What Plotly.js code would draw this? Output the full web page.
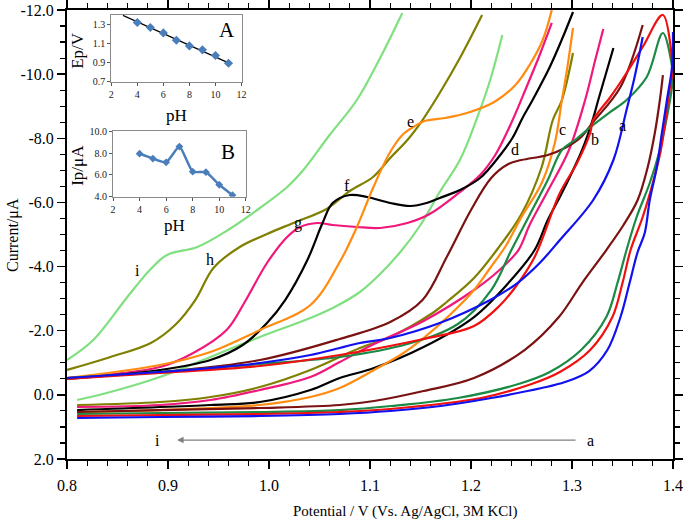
<!DOCTYPE html>
<html><head><meta charset="utf-8">
<script src="https://cdn.plot.ly/plotly-3.0.1.min.js"></script>
<style>html,body{margin:0;padding:0;background:#fff}#chart{width:685px;height:523px}</style>
</head><body><div id="chart"></div>
<script>
// ---- main CV data: potential (V) and current (uA), forward and reverse branches ----
const aFwdV = [0.800,0.892,0.942,0.991,1.041,1.070,1.090,1.120,1.169,1.219,1.246,1.268,1.288,1.321,1.341,1.354,1.362,1.370];
const aFwdI = [-0.525,-0.712,-0.837,-0.993,-1.242,-1.461,-1.617,-1.773,-2.240,-2.957,-3.487,-4.111,-4.828,-6.076,-7.323,-8.883,-9.911,-11.159];
const aRevV = [1.400,1.399,1.394,1.389,1.384,1.377,1.372,1.365,1.357,1.348,1.335,1.317,1.293,1.270,1.220,1.170,1.120,1.070,0.991,0.892,0.810];
const aRevI = [-11.314,-10.223,-9.194,-8.165,-7.105,-6.076,-5.047,-4.454,-3.487,-2.427,-1.398,-0.743,-0.400,-0.213,0.098,0.348,0.504,0.597,0.659,0.691,0.722];

const bFwdV = [0.800,0.892,0.991,1.070,1.153,1.203,1.229,1.244,1.263,1.288,1.305,1.318,1.321,1.338,1.354,1.370,1.390,1.400];
const bFwdI = [-0.494,-0.681,-0.899,-1.242,-1.741,-2.147,-2.801,-3.363,-4.298,-6.294,-7.229,-8.165,-8.570,-9.287,-10.036,-10.847,-11.844,-10.067];
const bRevV = [1.400,1.397,1.393,1.388,1.380,1.370,1.358,1.350,1.340,1.318,1.288,1.260,1.210,1.120,1.070,0.991,0.892,0.810];
const bRevI = [-10.067,-9.599,-8.664,-7.635,-6.606,-5.546,-4.517,-3.487,-2.427,-1.398,-0.712,-0.338,0.098,0.441,0.535,0.597,0.629,0.660];

const cFwdV = [0.800,0.892,0.991,1.070,1.137,1.187,1.220,1.240,1.258,1.276,1.290,1.303,1.321,1.338,1.354,1.374,1.390,1.400];
const cFwdI = [-0.525,-0.712,-0.962,-1.180,-1.585,-2.209,-3.269,-4.517,-5.608,-6.700,-7.635,-7.947,-8.415,-8.820,-9.194,-9.911,-11.283,-10.067];
const cRevV = [1.400,1.399,1.394,1.387,1.377,1.364,1.354,1.345,1.334,1.309,1.278,1.247,1.187,1.121,1.070,0.991,0.892,0.810];
const cRevI = [-10.067,-9.599,-8.664,-7.635,-6.606,-5.546,-4.517,-3.487,-2.427,-1.398,-0.712,-0.338,0.098,0.348,0.473,0.535,0.566,0.597];

const dFwdV = [0.800,0.892,0.991,1.070,1.120,1.152,1.176,1.200,1.220,1.237,1.250,1.276,1.293,1.308,1.321,1.348,1.370];
const dFwdI = [-0.525,-0.712,-1.086,-1.741,-2.271,-2.957,-4.298,-5.764,-6.762,-7.198,-7.323,-7.479,-7.697,-8.009,-8.508,-9.599,-11.532];
const dRevV = [1.390,1.387,1.382,1.375,1.365,1.351,1.334,1.310,1.287,1.253,1.203,1.153,1.104,1.070,0.991,0.892,0.810];
const dRevI = [-9.973,-9.194,-8.165,-7.105,-6.076,-5.296,-4.516,-3.487,-2.427,-1.398,-0.525,-0.120,0.192,0.317,0.410,0.473,0.535];

const eFwdV = [0.800,0.892,0.942,0.991,1.041,1.070,1.087,1.103,1.120,1.133,1.143,1.154,1.174,1.196,1.223,1.244,1.258,1.271,1.280];
const eFwdI = [-0.525,-0.931,-1.336,-2.022,-2.801,-4.142,-5.234,-6.450,-7.572,-8.134,-8.352,-8.539,-8.633,-8.788,-9.131,-9.662,-10.285,-11.065,-12.000];
const eRevV = [1.301,1.295,1.290,1.283,1.270,1.250,1.235,1.219,1.203,1.179,1.153,1.130,1.104,1.070,1.041,0.991,0.892,0.810];
const eRevI = [-11.439,-10.129,-9.194,-7.853,-6.606,-5.546,-4.673,-3.955,-3.269,-2.490,-1.772,-1.242,-0.775,-0.213,0.067,0.317,0.473,0.535];

const fFwdV = [0.800,0.892,0.942,0.974,0.998,1.016,1.038,1.053,1.063,1.080,1.097,1.120,1.140,1.156,1.169,1.189,1.209,1.229,1.241,1.251,1.261,1.278,1.291,1.301];
const fFwdI = [-0.494,-0.775,-1.086,-1.554,-2.240,-2.957,-4.205,-5.358,-5.982,-6.232,-6.169,-5.982,-5.889,-5.982,-6.138,-6.387,-6.762,-7.479,-8.009,-8.633,-9.194,-10.223,-11.158,-11.938];
const fRevV = [1.341,1.326,1.321,1.310,1.290,1.276,1.263,1.237,1.203,1.153,1.104,1.070,1.041,0.991,0.942,0.810];
const fRevI = [-10.815,-9.194,-8.633,-7.635,-6.294,-5.452,-4.516,-3.487,-2.427,-1.492,-0.837,-0.525,-0.151,0.223,0.317,0.473];

const gFwdV = [0.800,0.892,0.925,0.958,0.976,0.998,1.018,1.031,1.048,1.063,1.087,1.110,1.137,1.159,1.189,1.209,1.224,1.239,1.255,1.268,1.280];
const gFwdI = [-0.525,-0.868,-1.305,-2.022,-2.895,-4.111,-4.922,-5.234,-5.358,-5.296,-5.234,-5.203,-5.358,-5.639,-6.325,-6.855,-7.479,-8.414,-9.599,-10.597,-11.595];
const gRevV = [1.331,1.323,1.313,1.297,1.276,1.258,1.247,1.226,1.203,1.153,1.104,1.070,1.041,0.991,0.942,0.892,0.810];
const gRevI = [-11.408,-10.441,-9.194,-7.635,-6.356,-5.296,-4.516,-3.830,-3.269,-2.303,-1.585,-1.024,-0.556,-0.151,0.161,0.317,0.379];

const hFwdV = [0.800,0.843,0.883,0.907,0.927,0.945,0.971,0.998,1.024,1.057,1.080,1.103,1.120,1.137,1.152,1.169,1.189,1.211];
const hFwdI = [-0.775,-1.180,-1.617,-2.178,-2.957,-3.955,-4.610,-5.015,-5.358,-5.795,-6.356,-6.793,-7.385,-7.947,-8.570,-9.412,-10.503,-11.844];
const hRevV = [1.301,1.290,1.281,1.270,1.250,1.227,1.203,1.176,1.162,1.120,1.090,1.041,0.991,0.942,0.892,0.810];
const hRevI = [-10.659,-9.194,-8.570,-7.105,-5.639,-4.579,-3.643,-2.895,-2.552,-1.804,-1.461,-0.775,-0.245,0.067,0.223,0.317];

const iFwdV = [0.800,0.826,0.859,0.882,0.899,0.929,0.961,0.991,1.018,1.034,1.060,1.087,1.110,1.132];
const iFwdI = [-1.086,-1.710,-3.020,-3.893,-4.361,-4.610,-5.172,-5.826,-6.481,-7.011,-8.102,-9.194,-10.503,-11.907];
const iRevV = [1.231,1.219,1.206,1.189,1.169,1.150,1.130,1.110,1.090,1.065,1.041,0.991,0.942,0.892,0.843,0.810];
const iRevI = [-11.221,-9.817,-8.633,-7.323,-6.325,-5.296,-4.454,-3.768,-3.207,-2.739,-2.396,-1.804,-1.180,-0.556,-0.089,0.161];

const curveNames = ['a','b','c','d','e','f','g','h','i'];
const curveColors = ['#1010f0','#f01010','#1a8a45','#7a1212','#ff8c10','#000000','#f0187a','#808000','#80e080'];
// label positions (V, uA)
const labelV = [1.350,1.323,1.291,1.244,1.140,1.077,1.029,0.942,0.870];
const labelI = [-8.41,-7.95,-8.26,-7.64,-8.51,-6.54,-5.36,-4.21,-3.89];

// ---- inset data ----
const pH = [4,5,6,7,8,9,10,11];
const Ep = [1.325,1.272,1.216,1.139,1.079,1.037,0.977,0.896];
const fitPH = [2.9,11];
const fitEp = [1.40,0.90];
const Ip = [7.95,7.5,7.15,8.6,6.3,6.25,5.1,4.15];

const yTickVals = [-12,-10,-8,-6,-4,-2,0,2];
const yTickText = ['-12.0','-10.0','-8.0','-6.0','-4.0','-2.0','0.0','2.0'];

const branches = {
  a:[aFwdV,aFwdI,aRevV,aRevI,true], b:[bFwdV,bFwdI,bRevV,bRevI,false], c:[cFwdV,cFwdI,cRevV,cRevI,false],
  d:[dFwdV,dFwdI,dRevV,dRevI,true], e:[eFwdV,eFwdI,eRevV,eRevI,true], f:[fFwdV,fFwdI,fRevV,fRevI,true],
  g:[gFwdV,gFwdI,gRevV,gRevI,true], h:[hFwdV,hFwdI,hRevV,hRevI,true], i:[iFwdV,iFwdI,iRevV,iRevI,true]
};

const FONT = 'Liberation Serif, Times New Roman, serif';
const traces = [];
for (let k = curveNames.length-1; k >= 0; k--) {
  const n = curveNames[k];
  const [fv, fi, rv, ri, gap] = branches[n];
  const xs = gap ? fv.concat([null], rv) : fv.concat(rv);
  const ys = gap ? fi.concat([null], ri) : fi.concat(ri);
  traces.push({x: xs, y: ys, type:'scatter', mode:'lines', xaxis:'x', yaxis:'y',
    line:{color:curveColors[k], width:2.2, shape:'spline', smoothing:1.0}, connectgaps:false, hoverinfo:'skip'});
}
// inset A
traces.push({x: fitPH, y: fitEp, type:'scatter', mode:'lines', xaxis:'x2', yaxis:'y2', line:{color:'#000', width:1.3}});
traces.push({x: pH, y: Ep, type:'scatter', mode:'markers', xaxis:'x2', yaxis:'y2', marker:{symbol:'diamond', size:7, color:'#4a7ebb'}});
// inset B
traces.push({x: pH, y: Ip, type:'scatter', mode:'lines+markers', xaxis:'x3', yaxis:'y3',
  line:{color:'#4a7ebb', width:2.5, shape:'spline', smoothing:0.5}, marker:{symbol:'diamond', size:6, color:'#4a7ebb'}});

const annotations = [];
const txt = (x, y, text, size, extra) => Object.assign({x:x, y:y, text:text, showarrow:false, xanchor:'center', yanchor:'middle',
  font:{family:FONT, size:size, color:'#000'}}, extra);
curveNames.forEach((n, k) => annotations.push(txt(labelV[k], labelI[k], n, 16, {xref:'x', yref:'y'})));
// scan-order arrow
annotations.push({x:0.909, y:1.41, ax:1.305, ay:1.41, xref:'x', yref:'y', axref:'x', ayref:'y', text:'', showarrow:true,
  arrowhead:2, arrowsize:1, arrowwidth:1.3, arrowcolor:'#7f7f7f'});
annotations.push(txt(1.318, 1.41, 'a', 16, {xref:'x', yref:'y'}));
annotations.push(txt(0.890, 1.41, 'i', 16, {xref:'x', yref:'y'}));
// axis titles
annotations.push(txt(0.558, -0.118, 'Potential / V (Vs. Ag/AgCl, 3M KCl)', 15, {xref:'paper', yref:'paper'}));
annotations.push(txt(-0.089, 0.499, 'Current/μA', 16, {xref:'paper', yref:'paper', textangle:-90}));
// inset titles
annotations.push(txt(0.018, 0.911, 'Ep/V', 17, {xref:'paper', yref:'paper', textangle:-90}));
annotations.push(txt(0.1815, 0.766, 'pH', 17, {xref:'paper', yref:'paper'}));
annotations.push(txt(0.264, 0.955, 'A', 21, {xref:'paper', yref:'paper'}));
annotations.push(txt(0.018, 0.655, 'Ip/μA', 17, {xref:'paper', yref:'paper', textangle:-90}));
annotations.push(txt(0.178, 0.519, 'pH', 17, {xref:'paper', yref:'paper'}));
annotations.push(txt(0.266, 0.684, 'B', 21, {xref:'paper', yref:'paper'}));

const insetAxis = (extra) => Object.assign({showgrid:false, zeroline:false, showline:true, linecolor:'#8a8a8a', linewidth:1,
  mirror:true, ticks:'outside', ticklen:3, tickcolor:'#555', tickfont:{family:FONT, size:10, color:'#222'}}, extra);

const layout = {
  width:685, height:523, margin:{l:67, r:12, t:10, b:64},
  paper_bgcolor:'#fff', plot_bgcolor:'#fff', showlegend:false,
  font:{family:FONT, size:16, color:'#000'},
  xaxis:{domain:[0,1], range:[0.8,1.4], dtick:0.1, tick0:0.8, tickformat:'.1f', showgrid:false, zeroline:false,
    showline:true, linecolor:'#000', linewidth:2, mirror:'allticks', ticks:'outside', ticklen:8, tickwidth:1.5, tickcolor:'#000',
    tickfont:{family:FONT, size:16, color:'#000'}, ticklabelstandoff:3,
    minor:{dtick:0.02, ticks:'outside', ticklen:5, tickwidth:1.2, tickcolor:'#000'}},
  yaxis:{domain:[0,1], range:[2,-12], tickmode:'array', tickvals:yTickVals, ticktext:yTickText, showgrid:false, zeroline:false,
    showline:true, linecolor:'#000', linewidth:2, mirror:'allticks', ticks:'outside', ticklen:8, tickwidth:1.5, tickcolor:'#000',
    tickfont:{family:FONT, size:16, color:'#000'},
    minor:{dtick:0.5, tick0:0, ticks:'outside', ticklen:5, tickwidth:1.2, tickcolor:'#000'}},
  xaxis2: insetAxis({domain:[0.073,0.288], anchor:'y2', range:[2,12], dtick:2, tick0:2}),
  yaxis2: insetAxis({domain:[0.840,0.989], anchor:'x2', range:[0.7,1.405], tickvals:[0.7,0.9,1.1,1.3], tickformat:'.1f'}),
  xaxis3: insetAxis({domain:[0.076,0.295], anchor:'y3', range:[2,12], dtick:2, tick0:2}),
  yaxis3: insetAxis({domain:[0.584,0.730], anchor:'x3', range:[4,10], dtick:2, tick0:4, tickformat:'.1f'}),
  annotations: annotations
};

Plotly.newPlot('chart', traces, layout, {staticPlot:true, displayModeBar:false});
</script>
</body></html>
